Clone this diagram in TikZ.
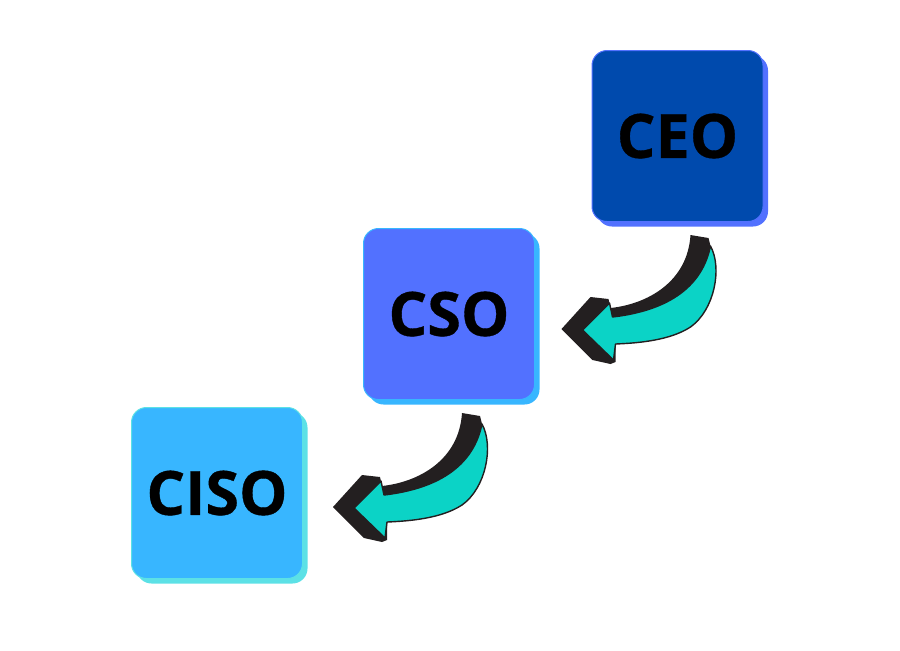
\documentclass[tikz,border=0pt]{standalone}
\usepackage{fontspec}
\setmainfont{Open Sans}
\newfontfamily\rolefont[BoldFeatures={FakeBold=0.6}]{Open Sans}
\usetikzlibrary{shadows}

\definecolor{ceoblue}{HTML}{004AAD}
\definecolor{csoblue}{HTML}{5271FF}
\definecolor{cisoblue}{HTML}{38B6FF}
\definecolor{cisoedge}{HTML}{5CE1E6}
\definecolor{arrowteal}{HTML}{0BD3C6}
\definecolor{arrowdark}{HTML}{231F20}

\tikzset{
    rolebox/.style n args={2}{rectangle, rounded corners=7.5pt, minimum size=85.5pt,
        fill=#1, draw=#2, line width=0.5pt,
        general shadow={fill=#2, shadow xshift=2.5pt, shadow yshift=-2.5pt},
        font=\rolefont\bfseries\fontsize{30.5}{30.5}\selectfont, text=black},
    arrowback/.style={fill=arrowdark},
    arrowfront/.style={fill=arrowteal, draw=arrowdark, line width=0.7pt, line join=round},
}

\begin{document}
\begin{tikzpicture}[x=0.5pt, y=-0.5pt]
    \useasboundingbox (0,0) rectangle (900,650);
    \node (ceo) at (677.5,136) [rolebox={ceoblue}{csoblue}] {\raisebox{-2pt}{CEO}};
    \node (cso) at (449,314) [rolebox={csoblue}{cisoblue}] {CSO};
    \node (ciso) at (217,493) [rolebox={cisoblue}{cisoedge}] {\raisebox{-2pt}{CISO}};
    % curved arrows
    \begin{scope}[shift={(ceo.south)}]
        \fill[arrowback] (13,13) -- (31,16) -- (33,24) .. controls (45,46) and (37,88) .. (13,105)
            .. controls (-7,118) and (-37,121) .. (-62,122) -- (-62,140) -- (-67,142) -- (-85,138)
            -- (-116,107) -- (-87,75) -- (-69,77) -- (-67,86) .. controls (-30,82) and (10,60) .. (13,13) -- cycle;
        \draw[arrowfront] (33,24) .. controls (45,46) and (37,88) .. (13,105)
            .. controls (-7,118) and (-37,121) .. (-62,122) -- (-64,138) -- (-95,108)
            -- (-68,81) -- (-65,95) .. controls (-22,90) and (23,73) .. (33,24) -- cycle;
    \end{scope}
    \begin{scope}[shift={(cso.south)}]
        \fill[arrowback] (13,13) -- (31,16) -- (33,24) .. controls (45,46) and (37,88) .. (13,105)
            .. controls (-7,118) and (-37,121) .. (-62,122) -- (-62,140) -- (-67,142) -- (-85,138)
            -- (-116,107) -- (-87,75) -- (-69,77) -- (-67,86) .. controls (-30,82) and (10,60) .. (13,13) -- cycle;
        \draw[arrowfront] (33,24) .. controls (45,46) and (37,88) .. (13,105)
            .. controls (-7,118) and (-37,121) .. (-62,122) -- (-64,138) -- (-95,108)
            -- (-68,81) -- (-65,95) .. controls (-22,90) and (23,73) .. (33,24) -- cycle;
    \end{scope}
\end{tikzpicture}
\end{document}
